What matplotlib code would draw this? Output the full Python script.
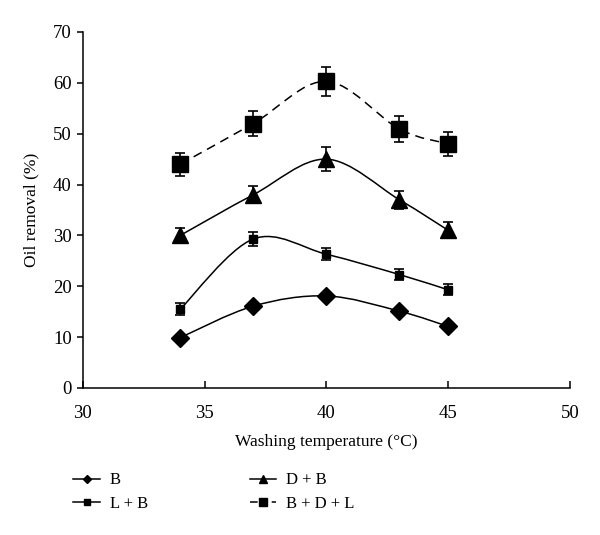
import numpy as np
import matplotlib
matplotlib.use("Agg")
import matplotlib.pyplot as plt
from matplotlib.path import Path
from matplotlib.patches import PathPatch
from matplotlib.lines import Line2D

plt.rcParams["font.family"] = ["Liberation Serif", "DejaVu Serif"]
plt.rcParams["font.size"] = 12

# data
temps = [34, 37, 40, 43, 45]
b_vals = [9.9, 16.1, 18.1, 15.1, 12.1]
b_err = [0.4, 0.5, 0.5, 0.4, 0.4]
lb_vals = [15.5, 29.3, 26.3, 22.3, 19.3]
lb_err = [1.2, 1.4, 1.2, 1.0, 1.1]
db_vals = [30.0, 38.0, 45.0, 37.0, 31.0]
db_err = [1.5, 1.7, 2.3, 1.8, 1.6]
bdl_vals = [44.0, 52.0, 60.3, 50.9, 48.0]
bdl_err = [2.3, 2.5, 2.9, 2.6, 2.3]


def smooth_path(x, y):
    """Excel-like smoothed line: cubic Bezier through the points (Catmull-Rom)."""
    x = np.asarray(x, float)
    y = np.asarray(y, float)
    verts = [(x[0], y[0])]
    codes = [Path.MOVETO]
    n = len(x)
    for i in range(n - 1):
        x0, y0 = (x[i - 1], y[i - 1]) if i > 0 else (x[i], y[i])
        x3, y3 = (x[i + 2], y[i + 2]) if i + 2 < n else (x[i + 1], y[i + 1])
        c1 = (x[i] + (x[i + 1] - x0) / 6, y[i] + (y[i + 1] - y0) / 6)
        c2 = (x[i + 1] - (x3 - x[i]) / 6, y[i + 1] - (y3 - y[i]) / 6)
        verts += [c1, c2, (x[i + 1], y[i + 1])]
        codes += [Path.CURVE4] * 3
    return Path(verts, codes)


fig = plt.figure(figsize=(6.0, 5.35), dpi=100)
ax = fig.add_axes([0.138, 0.2748, 0.812, 0.6654])

# name, values, errors, marker, marker size, line style, legend marker size, legend style
series = [
    ("B", b_vals, b_err, "D", 9, "-", 4, "-"),
    ("L + B", lb_vals, lb_err, "s", 6, "-", 4, "-"),
    ("D + B", db_vals, db_err, "^", 12, "-", 6, "-"),
    ("B + D + L", bdl_vals, bdl_err, "s", 12, (0, (6, 4)), 6, (0, (5, 9.2))),
]

handles = []
for name, vals, err, mk, ms, ls, lms, lls in series:
    patch = PathPatch(smooth_path(temps, vals), fill=False, edgecolor="black",
                      linewidth=1.1, linestyle=ls, zorder=2)
    ax.add_patch(patch)
    ax.errorbar(temps, vals, yerr=err, fmt=mk, color="black", markersize=ms,
                ecolor="black", elinewidth=1.2, capsize=3.3, capthick=1.2, zorder=3)
    handles.append(Line2D([], [], color="black", linestyle=lls, linewidth=1.1,
                          marker=mk, markersize=lms, label=name))

ax.set_xlim(30, 50)
ax.set_ylim(0, 70)
ax.set_xticks([30, 35, 40, 45, 50])
ax.set_yticks(range(0, 71, 10))
ax.spines["top"].set_visible(False)
ax.spines["right"].set_visible(False)
ax.spines["left"].set_linewidth(1.1)
ax.spines["bottom"].set_linewidth(1.1)
ax.tick_params(axis="y", direction="out", length=4, width=1.1, pad=4, labelsize=13.5)
ax.tick_params(axis="x", direction="in", length=5, width=1.1, pad=12, labelsize=13.5)

ax.set_xlabel("Washing temperature (°C)", labelpad=9, fontsize=12.5)
ax.set_ylabel("Oil removal (%)", labelpad=10, fontsize=12.5)

fig.legend(handles=handles, ncol=2, loc="upper left",
           bbox_to_anchor=(0.097, 0.145), frameon=False,
           handlelength=1.6, columnspacing=6.1, labelspacing=0.45,
           handletextpad=0.6)

fig.savefig("out.png", dpi=100)
